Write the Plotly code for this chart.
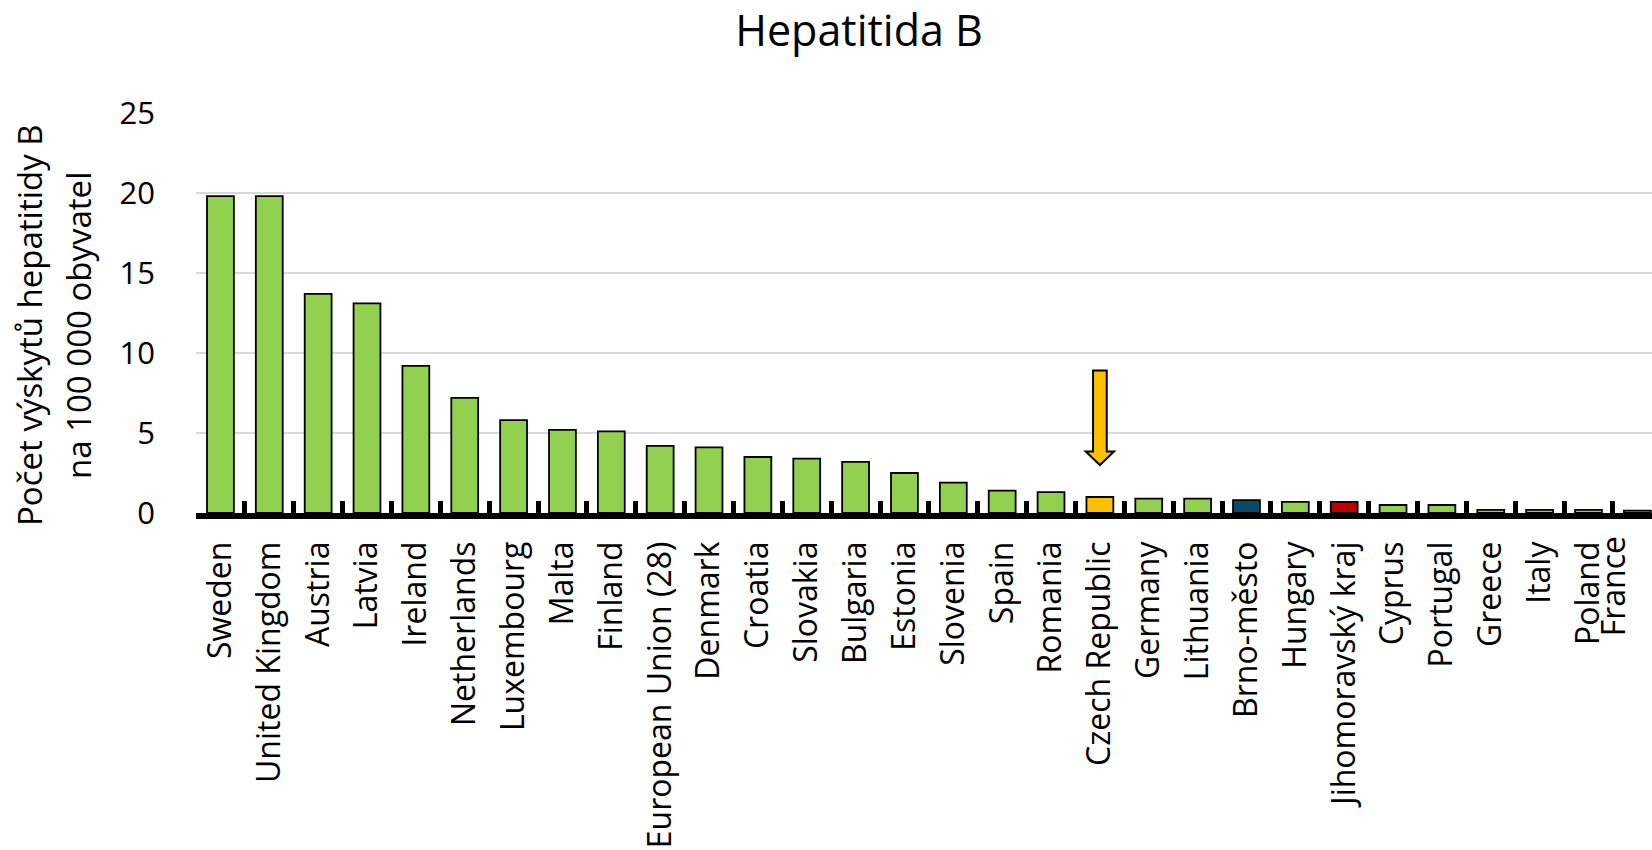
import plotly.graph_objects as go

categories = ["Sweden", "United Kingdom", "Austria", "Latvia", "Ireland", "Netherlands",
              "Luxembourg", "Malta", "Finland", "European Union (28)", "Denmark", "Croatia",
              "Slovakia", "Bulgaria", "Estonia", "Slovenia", "Spain", "Romania",
              "Czech Republic", "Germany", "Lithuania", "Brno-město", "Hungary",
              "Jihomoravský kraj", "Cyprus", "Portugal", "Greece", "Italy", "Poland", "France"]
values = [19.8, 19.8, 13.7, 13.1, 9.2, 7.2, 5.8, 5.2, 5.1, 4.2, 4.1, 3.5, 3.4, 3.2, 2.5,
          1.9, 1.4, 1.3, 1.0, 0.9, 0.9, 0.8, 0.7, 0.7, 0.5, 0.5, 0.2, 0.2, 0.2, 0.15]
y_ticks = [0, 5, 10, 15, 20, 25]
y_title_lines = ["Počet výskytů hepatitidy B", "na 100 000 obyvatel"]
chart_title = "Hepatitida B"

GREEN = "#92D050"
special_colors = {"Czech Republic": "#FFC000", "Brno-město": "#0B4A6B", "Jihomoravský kraj": "#C00000"}
colors = [special_colors.get(c, GREEN) for c in categories]

highlight = "Czech Republic"
edge_label = categories[-1]   # last label, squeezed inside the plot as in the original

FONT = "Open Sans"
TICK_SIZE = 32

fig = go.Figure()
fig.add_trace(go.Bar(
    x=categories, y=values,
    marker=dict(color=colors, line=dict(color="black", width=1.8)),
    hoverinfo="x+y",
))

# block arrow above highlighted bar
hi = categories.index(highlight)
hv = values[hi]
tip = hv + 2.0
head = tip + 0.85
top = tip + 5.9
sw, hw = 0.14, 0.29
path = (f"M {hi - sw} {top} L {hi + sw} {top} L {hi + sw} {head} L {hi + hw} {head} "
        f"L {hi} {tip} L {hi - hw} {head} L {hi - sw} {head} Z")
fig.add_shape(type="path", path=path, xref="x", yref="y",
              fillcolor="#FFC000", line=dict(color="black", width=2))

ticktext = [("" if c == edge_label else c) for c in categories]
fig.add_annotation(x=edge_label, y=0, xref="x", yref="y", text=edge_label,
                   textangle=-90, showarrow=False, xanchor="center", yanchor="top",
                   xshift=-25, yshift=-21, font=dict(size=TICK_SIZE, family=FONT, color="black"))

# y-axis title as two rotated lines
for line, xp in zip(y_title_lines, [-0.1147, -0.081]):
    fig.add_annotation(x=xp, y=0.47, xref="paper", yref="paper", text=line,
                       textangle=-90, showarrow=False, xanchor="center", yanchor="middle",
                       font=dict(size=33, family=FONT, color="black"))

fig.update_layout(
    width=1652, height=850,
    margin=dict(l=196, r=0, t=113, b=337, autoexpand=False),
    paper_bgcolor="white", plot_bgcolor="white",
    font=dict(family=FONT, color="black", size=31),
    bargap=0.45,
    showlegend=False,
    title=dict(text=chart_title, font=dict(size=43, family=FONT, color="black"),
               x=0.52, xref="container", xanchor="center",
               y=0.964, yref="container", yanchor="middle"),
    xaxis=dict(
        type="category",
        range=[-0.5, 29.3],
        tickmode="array", tickvals=categories, ticktext=ticktext,
        tickangle=-90,
        tickson="boundaries",
        ticks="inside", ticklen=12, tickwidth=4.5, tickcolor="black",
        showline=True, linecolor="black", linewidth=5.5,
        showgrid=False,
        tickfont=dict(size=TICK_SIZE, family=FONT),
        ticklabelstandoff=10,
        automargin=False,
    ),
    yaxis=dict(
        range=[0, 25],
        tickvals=y_ticks,
        showgrid=True, gridcolor="#D9D9D9", gridwidth=1.5,
        zeroline=False, showline=False, ticks="",
        tickfont=dict(size=31, family=FONT),
        ticklabelstandoff=40,
        automargin=False,
    ),
)

fig.write_html("out.html", config={"displayModeBar": False},
               post_script="document.body.style.margin='0px';document.body.style.overflow='hidden';")
